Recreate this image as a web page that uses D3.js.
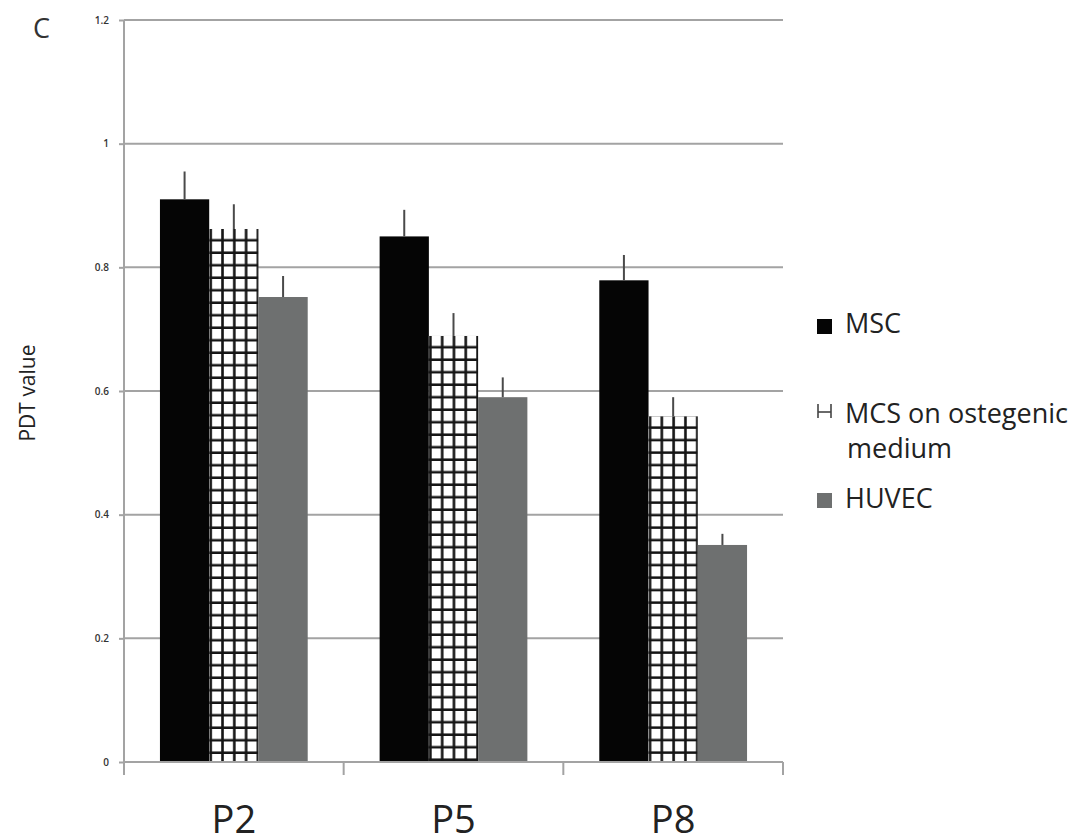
<!DOCTYPE html>
<html lang="en">
<head>
<meta charset="UTF-8">
<title>PDT value</title>
<script src="https://d3js.org/d3.v7.min.js"></script>
<style>
  body { margin: 0; background: #fff; font-family: 'Open Sans', Arial, sans-serif; }
  svg { display: block; }
</style>
</head>
<body>
<div id="chart"></div>
<script>
  const categories = ["P2", "P5", "P8"];
  const seriesNames = ["MSC", "MCS on ostegenic medium", "HUVEC"];
  const msc = [0.91, 0.85, 0.779];
  const mcsOst = [0.862, 0.689, 0.559];
  const huvec = [0.752, 0.59, 0.351];
  const mscErr = [0.045, 0.043, 0.041];
  const mcsOstErr = [0.04, 0.037, 0.031];
  const huvecErr = [0.034, 0.032, 0.018];
  const yTicks = [0, 0.2, 0.4, 0.6, 0.8, 1, 1.2];

  const series = [
    { name: seriesNames[0], values: msc, err: mscErr },
    { name: seriesNames[1], values: mcsOst, err: mcsOstErr },
    { name: seriesNames[2], values: huvec, err: huvecErr }
  ];

  const W = 1075, H = 836;
  const plot = { left: 124, right: 783, top: 20, bottom: 762 };
  const gridColor = "#a3a3a3";

  const svg = d3.select("#chart").append("svg")
    .attr("width", W)
    .attr("height", H);

  const x = d3.scaleBand()
    .domain(categories)
    .range([plot.left, plot.right])
    .padding(0);

  const xInner = d3.scaleBand()
    .domain(d3.range(series.length))
    .range([0, x.bandwidth()])
    .paddingInner(0)
    .paddingOuter(0.73);

  const y = d3.scaleLinear()
    .domain([0, 1.2])
    .range([plot.bottom, plot.top]);

  // grid lines
  svg.append("g")
    .selectAll("line")
    .data(yTicks.filter(d => d > 0))
    .join("line")
    .attr("x1", plot.left)
    .attr("x2", plot.right)
    .attr("y1", d => y(d))
    .attr("y2", d => y(d))
    .attr("stroke", gridColor)
    .attr("stroke-width", 2);

  // y axis
  const yAxis = svg.append("g")
    .attr("transform", `translate(${plot.left},0)`)
    .call(d3.axisLeft(y).tickValues(yTicks).tickSize(5).tickPadding(10)
      .tickFormat(d => d3.format("")(+d.toFixed(1))));
  yAxis.select(".domain").remove();
  yAxis.selectAll(".tick line").attr("stroke", gridColor).attr("stroke-width", 2);
  yAxis.selectAll(".tick text")
    .attr("fill", "#333")
    .style("font-family", "'Open Sans', sans-serif")
    .style("font-size", "10px")
    .style("font-weight", "600");

  svg.append("line")
    .attr("x1", plot.left).attr("x2", plot.left)
    .attr("y1", plot.top).attr("y2", plot.bottom + 13)
    .attr("stroke", gridColor).attr("stroke-width", 2);

  // hatch patterns, one per bar so the grid starts at the bar's corner
  const defs = svg.append("defs");
  const hw = 11.8, hh = 12.5;
  categories.forEach((c, i) => {
    const bx = x(c) + xInner(1);
    const by = y(mcsOst[i]);
    const p = defs.append("pattern")
      .attr("id", "hatch" + i)
      .attr("patternUnits", "userSpaceOnUse")
      .attr("x", bx)
      .attr("y", by)
      .attr("width", hw)
      .attr("height", hh);
    p.append("rect").attr("width", hw).attr("height", hh).attr("fill", "#fff");
    p.append("rect").attr("x", 0.2).attr("y", 0).attr("width", 2.6).attr("height", hh).attr("fill", "#141414");
    p.append("rect").attr("x", 0).attr("y", 10).attr("width", hw).attr("height", 2.5).attr("fill", "#141414");
  });

  const fills = [() => "#050505", i => `url(#hatch${i})`, () => "#6e7070"];

  // bars
  series.forEach((s, si) => {
    svg.append("g")
      .selectAll("rect")
      .data(s.values)
      .join("rect")
      .attr("x", (d, i) => x(categories[i]) + xInner(si))
      .attr("y", d => y(d))
      .attr("width", xInner.bandwidth())
      .attr("height", d => y(0) - y(d))
      .attr("fill", (d, i) => fills[si](i));

    svg.append("g")
      .selectAll("line")
      .data(s.values)
      .join("line")
      .attr("x1", (d, i) => x(categories[i]) + xInner(si) + xInner.bandwidth() / 2)
      .attr("x2", (d, i) => x(categories[i]) + xInner(si) + xInner.bandwidth() / 2)
      .attr("y1", d => y(d))
      .attr("y2", (d, i) => y(d + s.err[i]))
      .attr("stroke", "#4a4a4a")
      .attr("stroke-width", 2);
  });

  // x axis baseline and category ticks
  svg.append("line")
    .attr("x1", plot.left).attr("x2", plot.right)
    .attr("y1", plot.bottom).attr("y2", plot.bottom)
    .attr("stroke", gridColor).attr("stroke-width", 2);

  svg.append("g")
    .selectAll("line")
    .data(categories)
    .join("line")
    .attr("x1", d => x(d) + x.bandwidth())
    .attr("x2", d => x(d) + x.bandwidth())
    .attr("y1", plot.bottom)
    .attr("y2", plot.bottom + 13)
    .attr("stroke", gridColor).attr("stroke-width", 2);

  svg.append("g")
    .selectAll("text")
    .data(categories)
    .join("text")
    .attr("x", d => x(d) + x.bandwidth() / 2)
    .attr("y", 833)
    .attr("text-anchor", "middle")
    .attr("fill", "#222")
    .style("font-size", "38px")
    .text(d => d);

  // y label
  svg.append("text")
    .attr("transform", "translate(35,393) rotate(-90)")
    .attr("text-anchor", "middle")
    .attr("fill", "#222")
    .style("font-size", "21px")
    .text("PDT value");

  // panel letter
  svg.append("text")
    .attr("x", 33)
    .attr("y", 38)
    .attr("fill", "#333")
    .style("font-size", "27px")
    .text("C");

  // legend
  const leg = svg.append("g").style("font-size", "27px").attr("fill", "#222");
  leg.append("rect").attr("x", 817).attr("y", 319).attr("width", 15).attr("height", 15).attr("fill", "#050505");
  leg.append("text").attr("x", 845).attr("y", 333).text(seriesNames[0]);

  // small grid glyph for the hatched series
  const gl = leg.append("g").attr("stroke", "#444").attr("stroke-width", 1.6).attr("fill", "none");
  gl.append("line").attr("x1", 818).attr("x2", 818).attr("y1", 404).attr("y2", 418);
  gl.append("line").attr("x1", 831).attr("x2", 831).attr("y1", 404).attr("y2", 418);
  gl.append("line").attr("x1", 818).attr("x2", 831).attr("y1", 412).attr("y2", 412);
  leg.append("text").attr("x", 845).attr("y", 423).text("MCS on ostegenic");
  leg.append("text").attr("x", 847).attr("y", 458).text("medium");

  leg.append("rect").attr("x", 817).attr("y", 493).attr("width", 15).attr("height", 15).attr("fill", "#6e7070");
  leg.append("text").attr("x", 845).attr("y", 508).text(seriesNames[2]);
</script>
</body>
</html>
